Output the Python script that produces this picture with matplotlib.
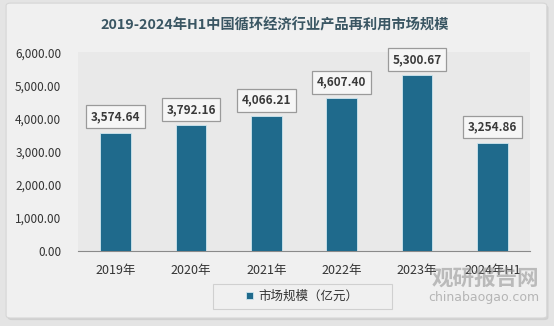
import matplotlib.pyplot as plt
from matplotlib.patches import FancyBboxPatch, Rectangle

plt.rcParams['font.family'] = ['Noto Sans CJK SC', 'DejaVu Sans']

years = ['2019年', '2020年', '2021年', '2022年', '2023年', '2024年H1']
values = [3574.64, 3792.16, 4066.21, 4607.40, 5300.67, 3254.86]
yticks = [0, 1000, 2000, 3000, 4000, 5000, 6000]

bar_color = '#1f6a8c'

fig = plt.figure(figsize=(5.54, 3.26), dpi=100)
fig.patch.set_facecolor('#e4e4e4')

# panel behind the chart
shadow = FancyBboxPatch((0.014, 0.018), 0.976, 0.966, boxstyle='round,pad=0,rounding_size=0.008',
                        transform=fig.transFigure, facecolor='#d0d0d0', edgecolor='none', zorder=-10)
panel = FancyBboxPatch((0.011, 0.0245), 0.976, 0.966, boxstyle='round,pad=0,rounding_size=0.008',
                       transform=fig.transFigure, facecolor='#f0f0f0', edgecolor='#d6d6d6', lw=0.8, zorder=-9)
fig.add_artist(shadow)
fig.add_artist(panel)
# legend box
fig.add_artist(Rectangle((0.3845, 0.052), 0.323, 0.0767, transform=fig.transFigure,
                         facecolor='#f0f0f0', edgecolor='#d0d0d0', lw=0.8, zorder=-8))

ax = fig.add_axes([0.1408, 0.23, 0.816, 0.61])
ax.set_zorder(1)
ax.set_facecolor('#e9e9e9')
x = range(len(years))
bars = ax.bar(x, values, width=0.41, color=bar_color, edgecolor='#cfe6ef', lw=0.6, zorder=3)

ax.set_ylim(0, 6000)
ax.set_xlim(-0.5, len(years) - 0.5)
ax.set_yticks(yticks)
ax.set_yticklabels([f'{v:,.2f}' for v in yticks], fontsize=8.5, color='#333333')
ax.set_xticks(list(x))
ax.set_xticklabels(years, fontsize=9, color='#333333')
ax.tick_params(axis='x', length=0, pad=9)
ax.tick_params(axis='y', length=0, pad=12)
for s in ['top', 'right', 'left']:
    ax.spines[s].set_visible(False)
ax.spines['bottom'].set_color('#8a8a8a')

for b, v in zip(bars, values):
    ax.annotate(f'{v:,.2f}', (b.get_x() + b.get_width() / 2, v), xytext=(0, 11.5),
                textcoords='offset points', ha='center', va='center', fontsize=8.5,
                color='#3a3a3a', fontweight='bold',
                bbox=dict(boxstyle='square,pad=0.4', fc='#f6f6f6', ec='#9a9a9a', lw=0.9),
                zorder=5)

fig.text(0.496, 0.922, '2019-2024年H1中国循环经济行业产品再利用市场规模', ha='center', va='center',
         fontsize=10.3, fontweight='bold', color='#3a5663')

leg = ax.legend([bars[0]], ['市场规模（亿元）'], loc='center', bbox_to_anchor=(0.496, -0.229),
                frameon=False, fontsize=9, handlelength=0.55, handleheight=0.55,
                handletextpad=0.4, borderpad=0)
for t in leg.get_texts():
    t.set_color('#333333')

# watermark
fig.text(0.876, 0.147, '观研报告网', fontsize=15.5, fontweight='bold', color='#8e8e8e',
         ha='center', va='center', alpha=0.55, zorder=5)
fig.text(0.873, 0.086, 'chinabaogao.com', fontsize=9, color='#8e8e8e', ha='center', va='center',
         alpha=0.6, zorder=5, family='DejaVu Sans')

fig.savefig('out.png', dpi=100, facecolor=fig.get_facecolor())
